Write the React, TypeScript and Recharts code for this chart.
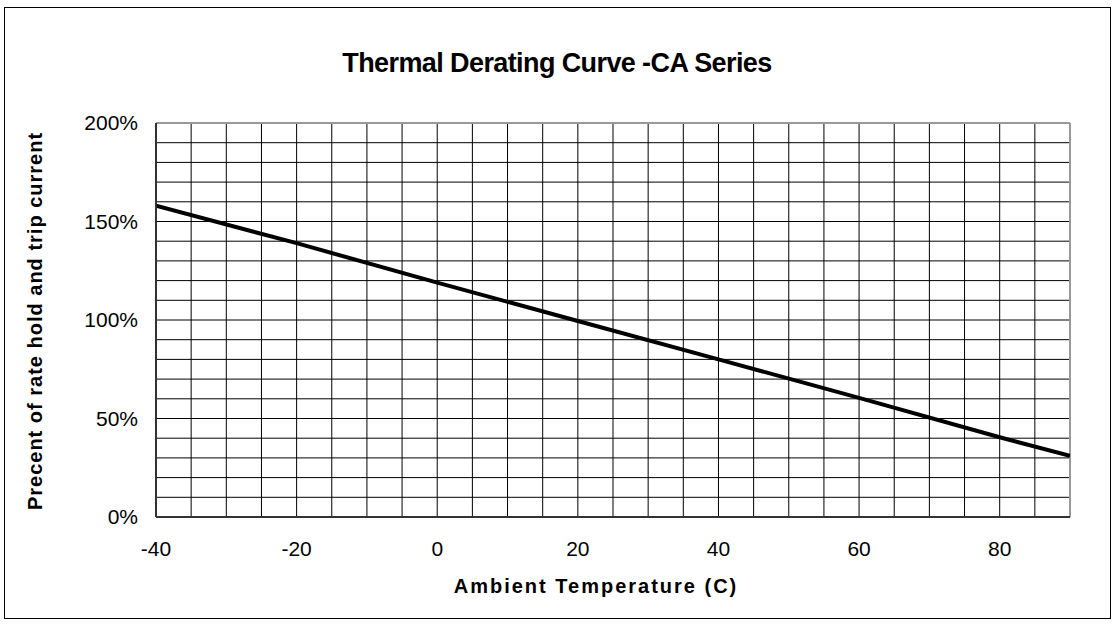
import React from "react";
import { LineChart, Line, XAxis, YAxis, ReferenceLine } from "recharts";

const temperatures = [-40, -20, 0, 20, 40, 60, 80, 90];
const percentValues = [158, 139, 119, 99.5, 80, 60.5, 40.5, 31];
const xTicks = [-40, -20, 0, 20, 40, 60, 80];
const yTicks = [0, 50, 100, 150, 200];
const xGrid = [-35, -30, -25, -20, -15, -10, -5, 0, 5, 10, 15, 20, 25, 30, 35, 40, 45, 50, 55, 60, 65, 70, 75, 80, 85];
const yGrid = [10, 20, 30, 40, 50, 60, 70, 80, 90, 100, 110, 120, 130, 140, 150, 160, 170, 180, 190];

const data = temperatures.map((t, i) => ({ t, v: percentValues[i] }));

const FONT = "'Liberation Sans', Arial, sans-serif";

export default function App() {
  return (
    <div style={{ position: "absolute", left: 0, top: 0, width: 1117, height: 625, background: "#fff", fontFamily: FONT }}>
      <div style={{ position: "absolute", left: 4, top: 7, width: 1107, height: 612, border: "1px solid #000", boxSizing: "border-box" }} />
      <div style={{ position: "absolute", left: 557, top: 50, transform: "translateX(-50%)", fontSize: 27, lineHeight: "27px", fontWeight: "bold", whiteSpace: "nowrap", letterSpacing: -0.6 }}>
        Thermal Derating Curve -CA Series
      </div>
      <div style={{ position: "absolute", left: 596, top: 576, transform: "translateX(-50%)", fontSize: 20, lineHeight: "20px", fontWeight: "bold", whiteSpace: "nowrap", letterSpacing: 2 }}>
        Ambient Temperature (C)
      </div>
      <div style={{ position: "absolute", left: 35, top: 321, transform: "translate(-50%, -50%) rotate(-90deg)", fontSize: 20, lineHeight: "20px", fontWeight: "bold", whiteSpace: "nowrap", letterSpacing: 1 }}>
        Precent of rate hold and trip current
      </div>
      <LineChart width={1117} height={625} data={data} margin={{ top: 123, right: 47, bottom: 68, left: 76 }} style={{ position: "absolute", left: 0, top: 0 }}>
        {xGrid.map((x) => (
          <ReferenceLine key={"gx" + x} x={x} stroke="#000" strokeWidth={1} ifOverflow="visible" />
        ))}
        {yGrid.map((y) => (
          <ReferenceLine key={"gy" + y} y={y} stroke="#000" strokeWidth={1} ifOverflow="visible" />
        ))}
        <ReferenceLine y={200} stroke="#999" strokeWidth={2} ifOverflow="visible" />
        <ReferenceLine x={90} stroke="#999" strokeWidth={2} ifOverflow="visible" />
        <XAxis
          dataKey="t"
          type="number"
          domain={[-40, 90]}
          ticks={xTicks}
          height={40}
          axisLine={{ stroke: "#333", strokeWidth: 2 }}
          tickLine={false}
          tickSize={8}
          tickMargin={16}
          tick={{ fill: "#000", fontSize: 21, fontFamily: FONT }}
          allowDataOverflow
        />
        <YAxis
          type="number"
          domain={[0, 200]}
          ticks={yTicks}
          width={80}
          axisLine={{ stroke: "#333", strokeWidth: 2 }}
          tickLine={false}
          tickSize={8}
          tickMargin={10}
          tickFormatter={(v) => v + "%"}
          tick={{ fill: "#000", fontSize: 21, fontFamily: FONT }}
          allowDataOverflow
        />
        <Line dataKey="v" stroke="#000" strokeWidth={4} dot={false} isAnimationActive={false} type="linear" />
      </LineChart>
    </div>
  );
}
